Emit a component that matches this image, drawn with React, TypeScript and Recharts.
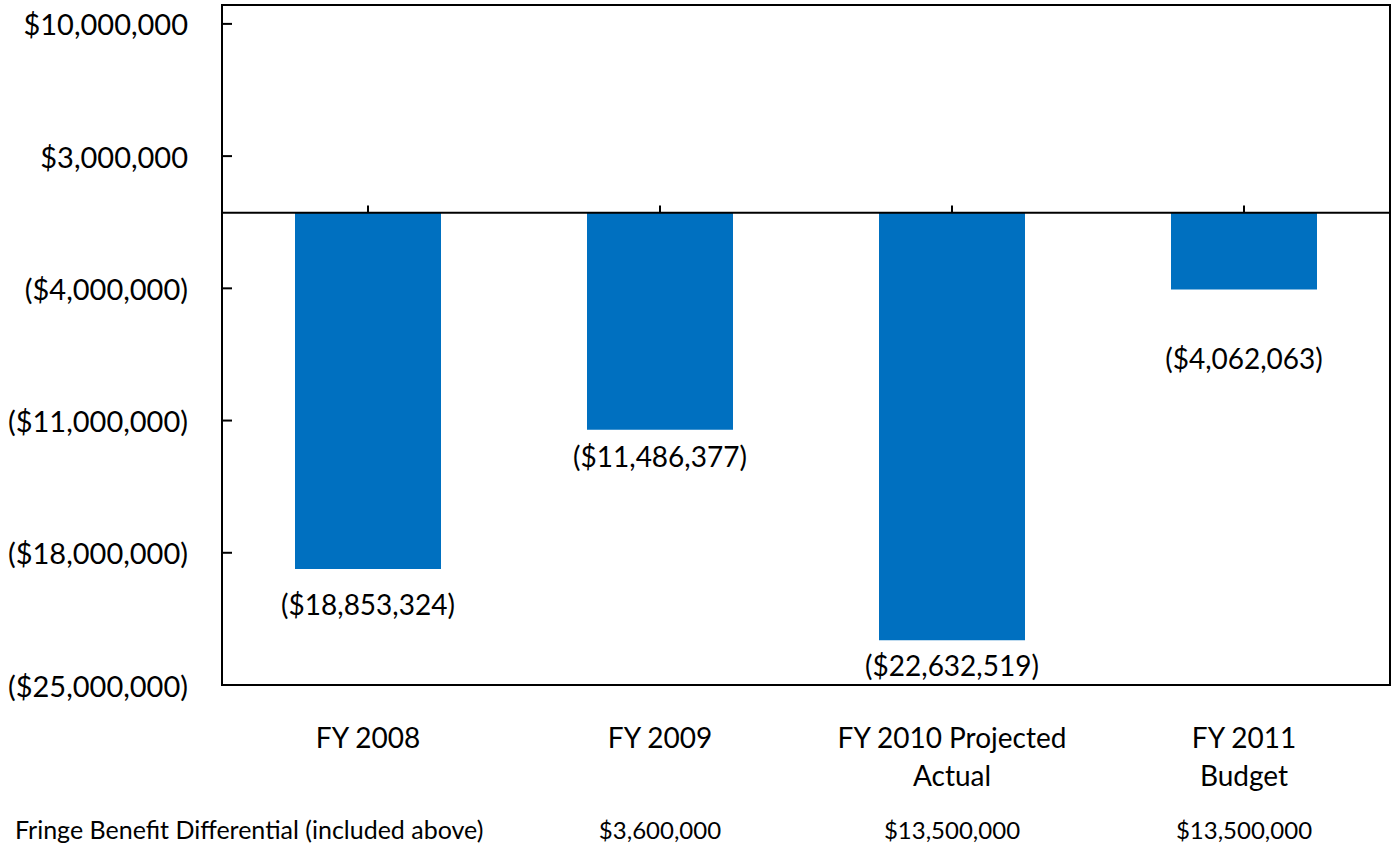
import React from 'react';
import {
    Bar,
    BarChart,
    LabelList,
    ReferenceArea,
    ReferenceLine,
    XAxis,
    YAxis
} from 'recharts';

const categories = ['FY 2008', 'FY 2009', 'FY 2010 Projected Actual', 'FY 2011 Budget'];
const categoryLines = [['FY 2008'], ['FY 2009'], ['FY 2010 Projected', 'Actual'], ['FY 2011', 'Budget']];
const netValues = [-18853324, -11486377, -22632519, -4062063];
const fringeDifferential = [null, 3600000, 13500000, 13500000];
const yTicks = [10000000, 3000000, -4000000, -11000000, -18000000, -25000000];

const FONT = 'Lato, "Liberation Sans", sans-serif';
const BLUE = '#0070C0';

// gap (px) between the bar end and its value label
const labelGap: Record<string, number> = {
    'FY 2008': 35,
    'FY 2009': 26,
    'FY 2010 Projected Actual': 25,
    'FY 2011 Budget': 68,
};

const data = categories.map((name, i) => ({
    name,
    value: netValues[i],
    fringe: fringeDifferential[i],
    lines: categoryLines[i],
}));

const money = (v: number) => {
    const s = '$' + Math.abs(v).toLocaleString('en-US');
    return v < 0 ? `(${s})` : s;
};

const YTick = ({ x, y, payload }: any) => (
    <g>
        <line x1={x + 34} x2={x + 44} y1={y} y2={y} stroke="#000" strokeWidth={2} />
        <text x={x} y={y} textAnchor="end" dominantBaseline="central" fontSize={29} fill="#000" fontFamily={FONT}>
            {money(payload.value)}
        </text>
    </g>
);

const XTick = ({ x, y, index }: any) => {
    const row = data[index];
    return (
        <g>
            {row.lines.map((line: string, i: number) => (
                <text key={i} x={x} y={y + 50 + i * 38} textAnchor="middle" dominantBaseline="central"
                    fontSize={28} fill="#000" fontFamily={FONT}>
                    {line}
                </text>
            ))}
            {row.fringe != null && (
                <text x={x} y={y + 142} textAnchor="middle" dominantBaseline="central"
                    fontSize={24} fill="#000" fontFamily={FONT}>
                    {money(row.fringe)}
                </text>
            )}
            {index === 0 && (
                <text x={15} y={y + 142} textAnchor="start" dominantBaseline="central"
                    fontSize={25} fill="#000" fontFamily={FONT}>
                    Fringe Benefit Differential (included above)
                </text>
            )}
        </g>
    );
};

// value label sits under the end of each (negative) bar
const BarLabel = ({ x, y, width, height, value, index }: any) => {
    const bottom = Math.max(y, y + height);
    const gap = labelGap[categories[index]] ?? 27;
    return (
        <text x={x + width / 2} y={bottom + gap} textAnchor="middle" dominantBaseline="central"
            fontSize={28} fill="#000" fontFamily={FONT}>
            {money(value)}
        </text>
    );
};

export default function App() {
    return (
        <div style={{ position: 'absolute', left: 0, top: 0, background: '#fff' }}>
            <BarChart
                width={1393}
                height={849}
                data={data}
                margin={{ top: 5, right: 3, left: 0, bottom: 0 }}
                barCategoryGap="25%"
            >
                <XAxis
                    dataKey="name"
                    axisLine={false}
                    tickLine={false}
                    tickSize={0}
                    height={164}
                    interval={0}
                    tick={<XTick />}
                />
                <YAxis
                    domain={[-25000000, 11000000]}
                    ticks={yTicks}
                    axisLine={false}
                    tickLine={false}
                    tickSize={0}
                    tickMargin={34}
                    width={222}
                    allowDataOverflow
                    tick={<YTick />}
                />
                <Bar dataKey="value" fill={BLUE} isAnimationActive={false}>
                    <LabelList dataKey="value" content={<BarLabel />} />
                </Bar>
                <ReferenceLine y={0} stroke="#000" strokeWidth={2} />
                {categories.map((c) => (
                    <ReferenceLine
                        key={c}
                        segment={[{ x: c, y: 0 }, { x: c, y: 380000 }]}
                        stroke="#000"
                        strokeWidth={2}
                    />
                ))}
                <ReferenceArea y1={-25000000} y2={11000000} fill="none" stroke="#000" strokeWidth={2} ifOverflow="visible" />
            </BarChart>
        </div>
    );
}
